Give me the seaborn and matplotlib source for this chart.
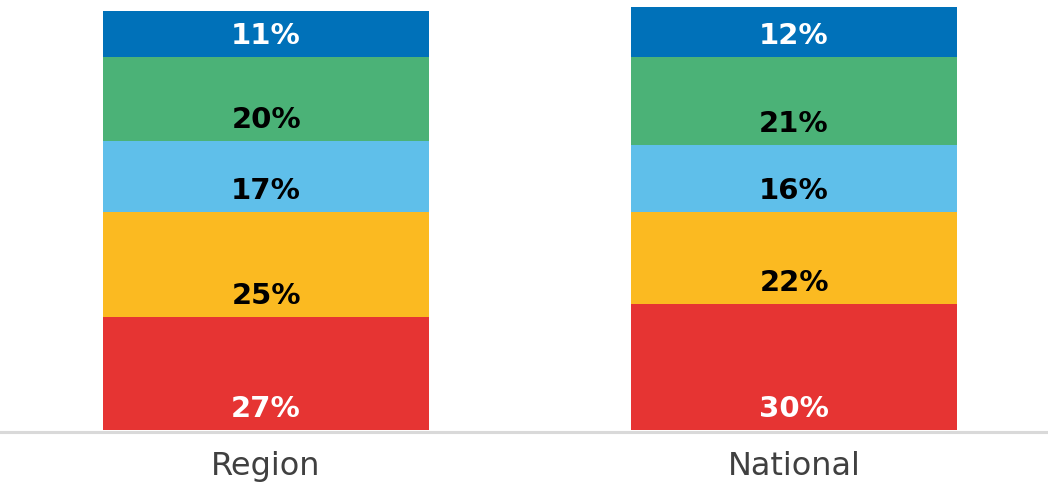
import matplotlib
matplotlib.use("Agg")
import matplotlib.pyplot as plt
from matplotlib import font_manager
import seaborn as sns
import pandas as pd
import numpy as np

# Share of responses per group, bottom segment first
groups = ["Region", "National"]
segment_names = ["Seg1", "Seg2", "Seg3", "Seg4", "Seg5"]
region_vals = [27, 25, 17, 20, 11]
national_vals = [30, 22, 16, 21, 12]
segment_colors = ["#E63433", "#FBBA21", "#5FBFEA", "#4BB277", "#0071B9"]
label_colors = ["white", "black", "black", "black", "white"]

sns.set_theme(style="white")

# Pick Montserrat only where a static face of the needed weight exists
mont_weights = {f.weight for f in font_manager.fontManager.ttflist if f.name == "Montserrat"}
def weight_num(w):
    return w if isinstance(w, int) else font_manager.weight_dict.get(w, 400)
mont_nums = {weight_num(w) for w in mont_weights}
label_family = ["Montserrat", "DejaVu Sans"] if any(w >= 700 for w in mont_nums) else ["DejaVu Sans"]
tick_family = ["Montserrat", "DejaVu Sans"] if any(300 <= w <= 400 for w in mont_nums) else ["DejaVu Sans"]
plt.rcParams["font.family"] = tick_family

fig = plt.figure(figsize=(10.48, 4.84), dpi=100)
ax = fig.add_axes([0, 54 / 484, 1, 1 - 54 / 484])

values = np.array([region_vals, national_vals])  # shape (groups, segments)
bottoms = np.hstack([np.zeros((len(groups), 1)), np.cumsum(values, axis=1)[:, :-1]])
tops = np.cumsum(values, axis=1)

# Stack by drawing cumulative totals from the top segment down
for i in reversed(range(len(segment_names))):
    df = pd.DataFrame({"group": groups, "total": tops[:, i]})
    sns.barplot(data=df, x="group", y="total", color=segment_colors[i],
                width=0.617, saturation=1, ax=ax, linewidth=0, order=groups)

# Value labels sit near the base of each segment
for g in range(len(groups)):
    for i in range(len(segment_names)):
        ax.annotate(f"{values[g, i]}%", xy=(g, bottoms[g, i]),
                    xytext=(0, 21), textcoords="offset pixels",
                    ha="center", va="center", fontsize=21, fontweight="bold",
                    family=label_family, color=label_colors[i])

ax.set_xlim(-0.504, 1.481)
ax.set_ylim(0, 430 / 4.19)
ax.set_xlabel("")
ax.set_ylabel("")
ax.set_yticks([])
ax.tick_params(axis="x", length=0, pad=14, labelsize=23, labelcolor="#404040")
for lbl in ax.get_xticklabels():
    lbl.set_fontweight("normal")
for side in ["top", "left", "right"]:
    ax.spines[side].set_visible(False)
ax.spines["bottom"].set_color("#D9D9D9")
ax.spines["bottom"].set_linewidth(2.2)
ax.spines["bottom"].set_position(("outward", 1.2))

fig.savefig("out.png", dpi=100)
